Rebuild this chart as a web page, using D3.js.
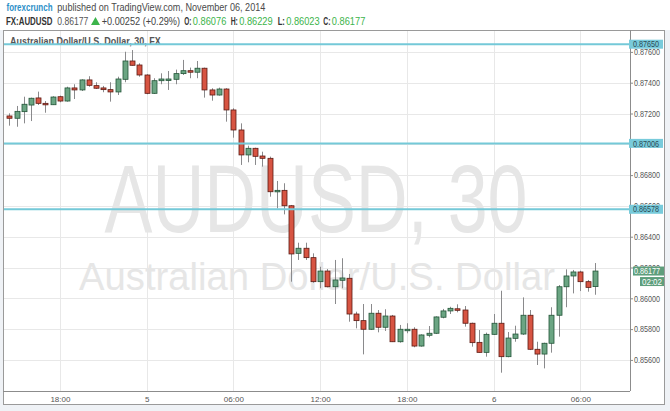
<!DOCTYPE html>
<html>
<head>
<meta charset="utf-8">
<script src="https://cdn.jsdelivr.net/npm/d3@7"></script>
<style>
html,body{margin:0;padding:0;background:#eff2f6;}
svg{display:block;font-family:"Liberation Sans",Arial,sans-serif;}
</style>
</head>
<body>
<svg id="chart" width="670" height="411"></svg>
<script>
// ---- data ----
const startTime = "2014-11-04T14:30:00Z";
const barMinutes = 30;
const open = [
0.87184,0.87169,0.87212,0.87255,0.87301,0.87266,0.87257,0.87309,0.87281,0.87366,
0.87353,0.87418,0.87381,0.87366,0.87355,0.87340,0.87422,0.87541,0.87515,0.87450,
0.87331,0.87413,0.87420,0.87422,0.87459,0.87478,0.87468,0.87494,0.87353,0.87320,
0.87359,0.87223,0.87093,0.86931,0.86974,0.86924,0.86909,0.86692,0.86701,0.86601,
0.86292,0.86325,0.86264,0.86108,0.86177,0.86075,0.86117,0.86130,0.85898,0.85855,
0.85799,0.85903,0.85812,0.85885,0.85718,0.85796,0.85799,0.85690,0.85760,0.85773,
0.85877,0.85918,0.85932,0.85924,0.85838,0.85714,0.85649,0.85766,0.85838,0.85621,
0.85740,0.85768,0.85890,0.85669,0.85638,0.85708,0.85890,0.86075,0.86145,0.86171,
0.86108,0.86076];
const close = [
0.87169,0.87214,0.87260,0.87299,0.87266,0.87257,0.87307,0.87281,0.87366,0.87353,
0.87418,0.87383,0.87364,0.87355,0.87340,0.87424,0.87541,0.87513,0.87450,0.87331,
0.87413,0.87424,0.87424,0.87459,0.87478,0.87468,0.87494,0.87353,0.87320,0.87359,
0.87223,0.87093,0.86931,0.86974,0.86922,0.86909,0.86692,0.86701,0.86601,0.86288,
0.86325,0.86264,0.86108,0.86177,0.86075,0.86119,0.86132,0.85898,0.85855,0.85799,
0.85903,0.85812,0.85885,0.85718,0.85799,0.85799,0.85690,0.85762,0.85773,0.85879,
0.85918,0.85935,0.85922,0.85838,0.85712,0.85649,0.85766,0.85838,0.85621,0.85742,
0.85768,0.85890,0.85669,0.85638,0.85708,0.85890,0.86075,0.86145,0.86171,0.86108,
0.86071,0.86177];
const high = [
0.87201,0.87249,0.87309,0.87303,0.87342,0.87281,0.87312,0.87316,0.87374,0.87390,
0.87422,0.87442,0.87403,0.87379,0.87403,0.87439,0.87601,0.87612,0.87526,0.87455,
0.87429,0.87461,0.87476,0.87485,0.87548,0.87498,0.87541,0.87498,0.87364,0.87368,
0.87364,0.87234,0.87136,0.86991,0.86978,0.86952,0.86920,0.86762,0.86747,0.86606,
0.86361,0.86361,0.86292,0.86205,0.86190,0.86249,0.86260,0.86158,0.85913,0.85963,
0.85963,0.85924,0.85929,0.85892,0.85827,0.85838,0.85812,0.85766,0.85820,0.85883,
0.85931,0.85945,0.85961,0.85950,0.85842,0.85794,0.85777,0.85898,0.86049,0.85781,
0.85822,0.86006,0.85924,0.85718,0.85712,0.85942,0.86086,0.86188,0.86184,0.86179,
0.86119,0.86229];
const low = [
0.87121,0.87114,0.87136,0.87151,0.87255,0.87205,0.87255,0.87273,0.87277,0.87294,
0.87346,0.87374,0.87359,0.87338,0.87277,0.87320,0.87403,0.87511,0.87439,0.87325,
0.87327,0.87390,0.87353,0.87390,0.87450,0.87429,0.87429,0.87303,0.87283,0.87316,
0.87147,0.87043,0.86866,0.86883,0.86866,0.86855,0.86660,0.86584,0.86545,0.86108,
0.86249,0.86249,0.86101,0.86065,0.86071,0.85963,0.86065,0.85848,0.85805,0.85636,
0.85794,0.85779,0.85788,0.85716,0.85712,0.85773,0.85682,0.85686,0.85747,0.85768,
0.85870,0.85898,0.85909,0.85816,0.85686,0.85647,0.85621,0.85762,0.85517,0.85617,
0.85718,0.85762,0.85664,0.85567,0.85545,0.85647,0.85751,0.85942,0.86032,0.86047,
0.86043,0.86023];
const levels = [0.87650, 0.87006, 0.86578];
const yTicks = [0.856,0.858,0.860,0.862,0.864,0.866,0.868,0.870,0.872,0.874,0.876];
const lastPrice = 0.86177;
const countdown = "02:02";

// ---- layout ----
const svg = d3.select("#chart");
const P = {left:3, top:30, right:630, bottom:391, frameRight:664, frameBottom:404};
const t0 = new Date(startTime);
const times = open.map((d,i)=> d3.utcMinute.offset(t0, i*barMinutes));

const x = d3.scaleUtc()
  .domain([times[0], times[times.length-1]])
  .range([9.3, 594.8]);
const y = d3.scaleLinear().domain([0.853981, 0.877422]).range([P.bottom, P.top]);

// backgrounds
svg.append("rect").attr("x",0).attr("y",0).attr("width",670).attr("height",30).attr("fill","#ffffff");
svg.append("rect").attr("x",P.left+0.5).attr("y",P.top+0.5)
  .attr("width",P.frameRight-P.left).attr("height",P.frameBottom-P.top)
  .attr("fill","#ffffff").attr("stroke","#9a9a9a");

// header
const hdr = svg.append("g");
function htext(s,xx,yy,w,opts){
  const t = hdr.append("text").attr("x",xx).attr("y",yy).text(s)
    .attr("font-size",opts.size||10.5).attr("fill",opts.fill||"#444")
    .attr("font-weight",opts.weight||"normal");
  if(w) t.attr("textLength",w).attr("lengthAdjust","spacingAndGlyphs");
  return t;
}
htext("forexcrunch",6.5,10.8,46,{fill:"#2d90c8",size:11,weight:"bold"});
htext("published on TradingView.com, November 06, 2014",57.3,10.8,208,{fill:"#4a4a4a",size:11});
htext("FX:AUDUSD",6,25,46.5,{fill:"#333",weight:"bold"});
htext("0.86177",57.3,25,31,{fill:"#555"});
hdr.append("path").attr("d","M91,25 L95.5,17 L100,25 Z").attr("fill","#3cb44b");
htext("+0.00252 (+0.29%)",101.7,25,78.3,{fill:"#444"});
const ohlc = [["O:","0.86076",184.3],["H:","0.86229",230.7],["L:","0.86023",277.7],["C:","0.86177",323.3]];
ohlc.forEach(([k,v,xx])=>{
  htext(k,xx,25,7.2,{fill:"#333",weight:"bold"});
  htext(v,xx+8.5,25,33.5,{fill:"#3cb44b"});
});

// grid
const grid = svg.append("g");
grid.selectAll("line.h").data(yTicks).join("line")
  .attr("x1",P.left+1).attr("x2",P.right)
  .attr("y1",d=>Math.round(y(d))+0.5).attr("y2",d=>Math.round(y(d))+0.5)
  .attr("stroke","#e8e8e8");
const xTicks = x.ticks(d3.utcHour.every(6));
grid.selectAll("line.v").data(xTicks).join("line")
  .attr("y1",P.top+1).attr("y2",P.bottom)
  .attr("x1",d=>Math.round(x(d))+0.5).attr("x2",d=>Math.round(x(d))+0.5)
  .attr("stroke","#e8e8e8");

// watermark
svg.append("text").attr("x",316).attr("y",232).attr("text-anchor","middle")
  .attr("font-size",96).attr("fill","#e6e6e6")
  .attr("textLength",423).attr("lengthAdjust","spacingAndGlyphs")
  .text("AUDUSD, 30");
svg.append("text").attr("x",317).attr("y",290).attr("text-anchor","middle")
  .attr("font-size",38).attr("fill","#e6e6e6")
  .attr("textLength",476).attr("lengthAdjust","spacingAndGlyphs")
  .text("Australian Dollar/U.S. Dollar");

// symbol title
svg.append("text").attr("x",10).attr("y",45).attr("font-size",10.5).attr("font-weight","bold")
  .attr("fill","#555").attr("textLength",150.7).attr("lengthAdjust","spacingAndGlyphs")
  .text("Australian Dollar/U.S. Dollar, 30, FX");

// candles
const data = times.map((t,i)=>({t,o:open[i],h:high[i],l:low[i],c:close[i]}));
const cg = svg.append("g");
const bw = 5;
cg.selectAll("line.wick").data(data).join("line")
  .attr("x1",d=>Math.round(x(d.t))+0.5).attr("x2",d=>Math.round(x(d.t))+0.5)
  .attr("y1",d=>y(d.h)).attr("y2",d=>y(d.l))
  .attr("stroke","#8a8a8c").attr("stroke-width",1);
cg.selectAll("rect.body").data(data).join("rect")
  .attr("x",d=>Math.round(x(d.t))-2+0.5-0.5)
  .attr("y",d=>y(Math.max(d.o,d.c)))
  .attr("width",bw)
  .attr("height",d=>Math.max(1.5,Math.abs(y(d.o)-y(d.c))))
  .attr("fill",d=>d.c>=d.o?"#6ba583":"#d75442")
  .attr("stroke",d=>d.c>=d.o?"#225437":"#5b1a13")
  .attr("stroke-width",0.8);

// horizontal levels
svg.selectAll("line.level").data(levels).join("line")
  .attr("x1",P.left+1).attr("x2",P.right)
  .attr("y1",d=>y(d)).attr("y2",d=>y(d))
  .attr("stroke","#74c9d8").attr("stroke-width",2);

// axes
svg.append("line").attr("x1",P.right+0.5).attr("x2",P.right+0.5).attr("y1",P.top).attr("y2",P.bottom)
  .attr("stroke","#8c8c8c");
svg.append("line").attr("x1",P.left).attr("x2",P.right).attr("y1",P.bottom+0.5).attr("y2",P.bottom+0.5)
  .attr("stroke","#8c8c8c");

const yAxis = d3.axisRight(y).tickValues(yTicks).tickFormat(d3.format(".5f")).tickSize(3).tickPadding(1);
const ya = svg.append("g").attr("transform",`translate(${P.right},0)`).call(yAxis);
ya.select(".domain").remove();
ya.selectAll(".tick line").attr("stroke","#8c8c8c");
ya.selectAll(".tick text").attr("font-size",9).attr("fill","#555")
  .attr("font-family","Liberation Sans, Arial, sans-serif")
  .attr("textLength",26).attr("lengthAdjust","spacingAndGlyphs");

const fmtX = d => (d.getUTCHours()===0 ? d3.utcFormat("%-d")(d) : d3.utcFormat("%H:%M")(d));
const xAxis = d3.axisBottom(x).tickValues(xTicks).tickFormat(fmtX).tickSize(0).tickPadding(5);
const xa = svg.append("g").attr("transform",`translate(0,${P.bottom})`).call(xAxis);
xa.select(".domain").remove();
xa.selectAll(".tick text").attr("font-size",8).attr("fill","#555")
  .attr("font-family","Liberation Sans, Arial, sans-serif");

// price labels for levels
const lg = svg.append("g");
levels.forEach(v=>{
  const yy = y(v);
  lg.append("rect").attr("x",P.right-1).attr("y",yy-4.5).attr("width",34).attr("height",9).attr("fill","#78cbdb");
  lg.append("text").attr("x",P.right+3).attr("y",yy+3.2).attr("font-size",9).attr("fill","#2b4a55")
    .attr("textLength",26).attr("lengthAdjust","spacingAndGlyphs").text(d3.format(".5f")(v));
});
// last price
const ly = y(lastPrice);
lg.append("rect").attr("x",P.right+3).attr("y",ly-4.5).attr("width",31).attr("height",9).attr("fill","#5e9e7c");
lg.append("text").attr("x",P.right+4).attr("y",ly+3.2).attr("font-size",9).attr("fill","#ffffff")
  .attr("textLength",26).attr("lengthAdjust","spacingAndGlyphs").text(d3.format(".5f")(lastPrice));
lg.append("rect").attr("x",P.right+10).attr("y",ly+6).attr("width",24).attr("height",9).attr("fill","#5e9e7c");
lg.append("text").attr("x",P.right+12).attr("y",ly+13.5).attr("font-size",9).attr("fill","#ffffff")
  .attr("textLength",20).attr("lengthAdjust","spacingAndGlyphs").text(countdown);
</script>
</body>
</html>
